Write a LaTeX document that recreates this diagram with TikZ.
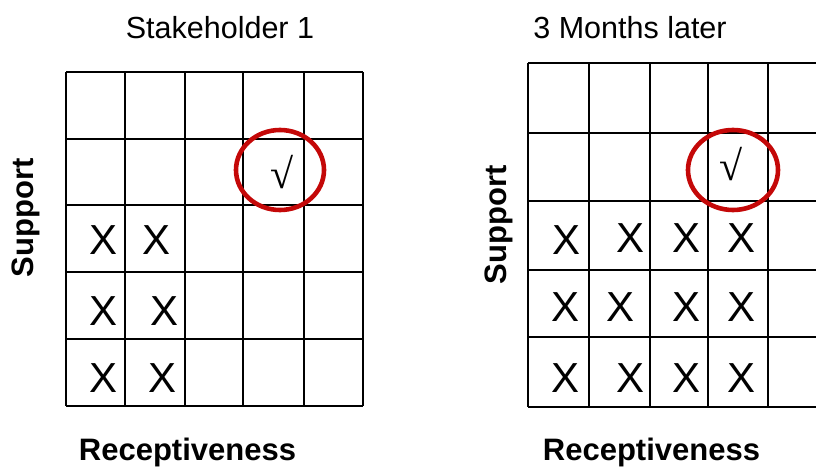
\documentclass[tikz,border=0pt]{standalone}
\usepackage{fontspec}
\setmainfont{Liberation Sans}
\newfontfamily\chkfont{Liberation Serif}
\definecolor{ringred}{RGB}{196,8,8}
\begin{document}
\begin{tikzpicture}[x=1pt,y=-1pt,
  gridline/.style={line width=1.6pt,black},
  ring/.style={draw=ringred,line width=4.6pt},
  title/.style={font=\fontsize{30.5}{32}\selectfont,inner sep=0pt},
  axis/.style={font=\fontsize{31}{32}\selectfont\bfseries,inner sep=0pt},
  cross/.style={font=\fontsize{42}{42}\selectfont,inner sep=0pt},
  tick/.style={font=\chkfont\fontsize{42}{42}\selectfont,inner sep=0pt}]
\useasboundingbox (0,0) rectangle (816,468);
\begin{scope}
\clip (0,0) rectangle (816,468);
% left grid
\foreach \x in {66,125,185,243,304,363} \draw[gridline] (\x,72) -- (\x,406);
\foreach \y in {72,139,205,272,339,406} \draw[gridline] (66,\y) -- (363,\y);
% right grid
\foreach \x in {528,589,650,708,768} \draw[gridline] (\x,63) -- (\x,407);
\foreach \y in {63,133,201,270,337,407} \draw[gridline] (528,\y) -- (830,\y);
\end{scope}
% titles
\node[title] (t1) at (220,28) {Stakeholder 1};
\node[title] (t2) at (630,28) {3 Months later};
% axis labels
\node[axis,rotate=90] (s1) at (26,218) {Support};
\node[axis] (r1) at (187.5,452) {Receptiveness};
\node[axis,rotate=90] (s2) at (499,225) {Support};
\node[axis] (r2) at (651.5,452) {Receptiveness};
% circles and ticks
\node[tick] (c1) at (282,172) {√};
\draw[ring] (280,170) ellipse [x radius=44, y radius=40] coordinate (e1);
\node[tick] (c2) at (731,164) {√};
\draw[ring] (733,170) ellipse [x radius=45, y radius=40] coordinate (e2);
% crosses left
\node[cross] (a1) at (104,240) {X};
\node[cross] (a2) at (157,240) {X};
\node[cross] (a3) at (104,311) {X};
\node[cross] (a4) at (165,311) {X};
\node[cross] (a5) at (104,378) {X};
\node[cross] (a6) at (163,378) {X};
% crosses right
\node[cross] (b1) at (566,240) {X};
\node[cross] (b2) at (630,238) {X};
\node[cross] (b3) at (686,238) {X};
\node[cross] (b4) at (741,238) {X};
\node[cross] (b5) at (565,307) {X};
\node[cross] (b6) at (620,307) {X};
\node[cross] (b7) at (686,307) {X};
\node[cross] (b8) at (741,307) {X};
\node[cross] (b9) at (565,378) {X};
\node[cross] (b10) at (630,378) {X};
\node[cross] (b11) at (686,378) {X};
\node[cross] (b12) at (741,378) {X};
\end{tikzpicture}
\end{document}
